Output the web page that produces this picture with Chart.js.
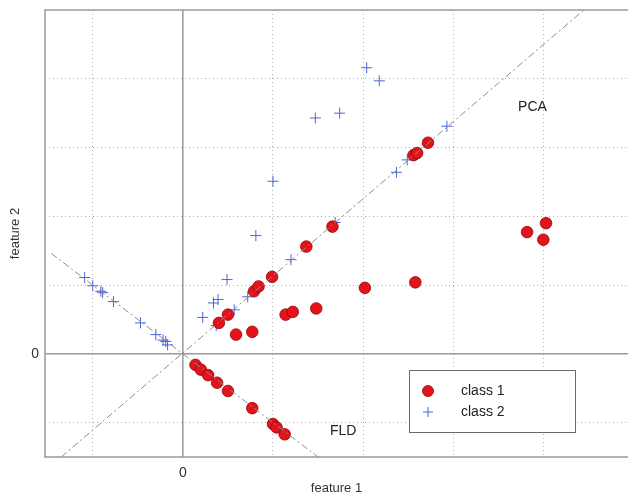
<!DOCTYPE html>
<html>
<head>
<meta charset="utf-8">
<script src="https://cdn.jsdelivr.net/npm/chart.js@4/dist/chart.umd.min.js"></script>
<style>
  html, body { margin: 0; padding: 0; background: #fff; overflow: hidden; }
</style>
</head>
<body>
<canvas id="chart" width="628" height="493"></canvas>
<script>
// valores
const class1X = [0.14, 0.20, 0.28, 0.38, 0.50, 0.77, 1.00, 1.04, 1.13,
                 0.40, 0.50, 0.59, 0.77, 0.79, 0.84, 0.99, 1.14, 1.22, 1.37, 1.48,
                 1.66, 2.02, 2.56, 2.60, 2.72, 2.58, 3.82, 4.00, 4.03];
const class1Y = [-0.16, -0.23, -0.31, -0.42, -0.54, -0.79, -1.02, -1.07, -1.17,
                 0.45, 0.57, 0.28, 0.32, 0.91, 0.98, 1.12, 0.57, 0.61, 1.56, 0.66,
                 1.85, 0.96, 2.89, 2.92, 3.07, 1.04, 1.77, 1.66, 1.90];

const class2X = [-1.09, -1.00, -0.91, -0.89, -0.77, -0.47, -0.30, -0.22, -0.19, -0.17,
                 0.22, 0.34, 0.39, 0.37, 0.49, 0.57, 0.72, 0.81, 1.00, 1.20,
                 1.47, 1.69, 1.74, 2.04, 2.18, 2.37, 2.49, 2.93];
const class2Y = [1.11, 0.99, 0.91, 0.89, 0.76, 0.45, 0.28, 0.20, 0.18, 0.13,
                 0.53, 0.74, 0.79, 0.41, 1.08, 0.64, 0.83, 1.72, 2.51, 1.37,
                 3.43, 1.91, 3.50, 4.16, 3.97, 2.64, 2.82, 3.31];

// direções PCA e FLD (extremos das retas)
const pcaX = [-1.35, 4.45];
const pcaY = [-1.50, 5.00];
const fldX = [-1.46, 1.55];
const fldY = [1.46, -1.55];

const xTicks = [-1, 0, 1, 2, 3, 4];
const yTicks = [-1, 0, 1, 2, 3, 4];
const tickLabels = { 0: '0' };

const legendLabels = ['class 1', 'class 2'];
const notes = [{ text: 'PCA', x: 3.88, y: 3.59 }, { text: 'FLD', x: 1.78, y: -1.12 }];

const FONT = '"Liberation Sans", Arial, sans-serif';
const RED = '#e3121b';
const RED_EDGE = '#8a0a0a';
const BLUE = '#4f63d6';
const AXIS_GREY = '#9a9a9a';

function pts(xs, ys) { return xs.map((x, i) => ({ x: x, y: ys[i] })); }

const frame = {
    id: 'frame',
    beforeDatasetsDraw(chart) {
        const { ctx, chartArea: a, scales: { x, y } } = chart;
        ctx.save();
        ctx.strokeStyle = AXIS_GREY;
        ctx.lineWidth = 1.5;
        const x0 = x.getPixelForValue(0), y0 = y.getPixelForValue(0);
        ctx.beginPath();
        ctx.moveTo(x0, a.top); ctx.lineTo(x0, a.bottom);
        ctx.moveTo(a.left, y0); ctx.lineTo(a.right, y0);
        // caixa sem o lado direito (fora da imagem)
        ctx.moveTo(a.right, a.top); ctx.lineTo(a.left, a.top);
        ctx.lineTo(a.left, a.bottom); ctx.lineTo(a.right, a.bottom);
        ctx.stroke();
        ctx.restore();
    },
    afterDatasetsDraw(chart) {
        const { ctx, scales: { x, y } } = chart;
        ctx.save();
        ctx.font = '14px ' + FONT;
        ctx.fillStyle = '#222';
        ctx.textAlign = 'center';
        ctx.textBaseline = 'middle';
        notes.forEach(n => ctx.fillText(n.text, x.getPixelForValue(n.x), y.getPixelForValue(n.y)));

        // legenda
        const bx = 409, by = 370, bw = 166, bh = 62;
        ctx.fillStyle = '#fff';
        ctx.fillRect(bx, by, bw, bh);
        ctx.strokeStyle = '#6a6a6a';
        ctx.lineWidth = 1;
        ctx.strokeRect(bx + 0.5, by + 0.5, bw, bh);

        ctx.beginPath();
        ctx.arc(428, 391, 5.5, 0, Math.PI * 2);
        ctx.fillStyle = RED; ctx.fill();
        ctx.strokeStyle = RED_EDGE; ctx.lineWidth = 0.8; ctx.stroke();

        ctx.beginPath();
        ctx.moveTo(423, 412); ctx.lineTo(433, 412);
        ctx.moveTo(428, 407); ctx.lineTo(428, 417);
        ctx.strokeStyle = BLUE; ctx.lineWidth = 1; ctx.stroke();

        ctx.fillStyle = '#222';
        ctx.textAlign = 'left';
        ctx.fillText(legendLabels[0], 461, 391);
        ctx.fillText(legendLabels[1], 461, 412);
        ctx.restore();
    }
};

const lineStyle = {
    type: 'line', showLine: true, pointRadius: 0, borderColor: '#8c8c8c',
    borderWidth: 1, borderDash: [7, 3, 2, 3], fill: false
};

new Chart(document.getElementById('chart'), {
    type: 'scatter',
    data: {
        datasets: [
            Object.assign({ label: 'PCA', data: pts(pcaX, pcaY) }, lineStyle),
            Object.assign({ label: 'FLD', data: pts(fldX, fldY) }, lineStyle),
            {
                label: legendLabels[0], data: pts(class1X, class1Y),
                pointStyle: 'circle', pointRadius: 5.8, pointBackgroundColor: RED,
                pointBorderColor: RED_EDGE, pointBorderWidth: 0.8
            },
            {
                label: legendLabels[1], data: pts(class2X, class2Y),
                pointStyle: 'cross', pointRadius: 5.5, pointBorderColor: BLUE,
                pointBorderWidth: 1
            }
        ]
    },
    options: {
        responsive: false,
        animation: false,
        layout: { autoPadding: false, padding: { top: 10, right: 0, left: 0, bottom: 0 } },
        plugins: { legend: { display: false }, tooltip: { enabled: false } },
        scales: {
            x: {
                type: 'linear', min: -1.53, max: 4.94,
                afterBuildTicks: s => { s.ticks = xTicks.map(v => ({ value: v })); },
                afterFit: s => { s.height = 36; s.paddingLeft = 0; s.paddingRight = 0; },
                grid: { color: '#b0b0b0', lineWidth: 1, drawTicks: false },
                border: { display: false, dash: [1, 3] },
                ticks: {
                    padding: 8, color: '#333', font: { family: FONT, size: 14 },
                    callback: v => tickLabels[v] || ''
                },
                title: {
                    display: true, text: 'feature 1', color: '#333',
                    font: { family: FONT, size: 13 }, padding: { top: 0, bottom: -3 }
                }
            },
            y: {
                type: 'linear', min: -1.5, max: 5,
                afterBuildTicks: s => { s.ticks = yTicks.map(v => ({ value: v })); },
                afterFit: s => { s.width = 45; s.paddingTop = 0; s.paddingBottom = 0; },
                grid: { color: '#b0b0b0', lineWidth: 1, drawTicks: false },
                border: { display: false, dash: [1, 3] },
                ticks: {
                    padding: 6, color: '#333', font: { family: FONT, size: 14 },
                    callback: v => tickLabels[v] || ''
                },
                title: {
                    display: true, text: 'feature 2', color: '#333',
                    font: { family: FONT, size: 13 }, padding: { top: 8, bottom: 0 }
                }
            }
        }
    },
    plugins: [frame]
});
</script>
</body>
</html>
